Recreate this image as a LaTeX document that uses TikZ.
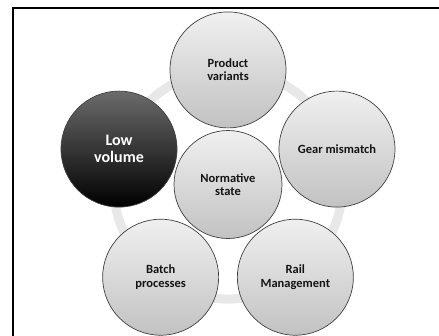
\documentclass[tikz,border=0pt]{standalone}
\usepackage{fontspec}
\setmainfont{Carlito}
\begin{document}
\begin{tikzpicture}[x=1pt,y=1pt,
  bubble/.style={circle, draw=black!75, line width=0.7pt, minimum size=116pt,
    inner sep=0pt, align=center, font=\fontsize{12.5}{13.5}\selectfont\bfseries,
    text=black!92, top color=black!6, bottom color=black!24},
  hub/.style={bubble, minimum size=108pt},
  darkbubble/.style={bubble, top color=black!58, bottom color=black,
    text=white, font=\fontsize{16}{17}\selectfont\bfseries},
  ring/.style={draw=black!9, line width=9pt}]
  \useasboundingbox (0,0) rectangle (439,-335);
  \fill[white] (0,0) rectangle (439,-335);
  % frame: only the top and left edges lie inside the page
  \draw[line width=1.8pt] (439,-8) -- (13,-8) -- (13,-336);
  % centre of the arrangement and the ring through the outer bubbles
  \coordinate (c) at (228,-184.5);
  \draw[ring] (c) circle (114.6);
  % outer bubbles on a regular pentagon
  \node[bubble] (pv) at ([shift={(90:114.6)}]c) {Product\\variants};
  \node[darkbubble] (lv) at ([shift={(162:114.6)}]c) {Low\\volume};
  \node[bubble] (bp) at ([shift={(234:114.6)}]c) {Batch\\processes};
  \node[bubble] (rm) at ([shift={(306:114.6)}]c) {Rail\\Management};
  \node[bubble] (gm) at ([shift={(18:114.6)}]c) {Gear mismatch};
  % central bubble
  \node[hub] (ns) at (c) {Normative\\state};
\end{tikzpicture}
\end{document}
